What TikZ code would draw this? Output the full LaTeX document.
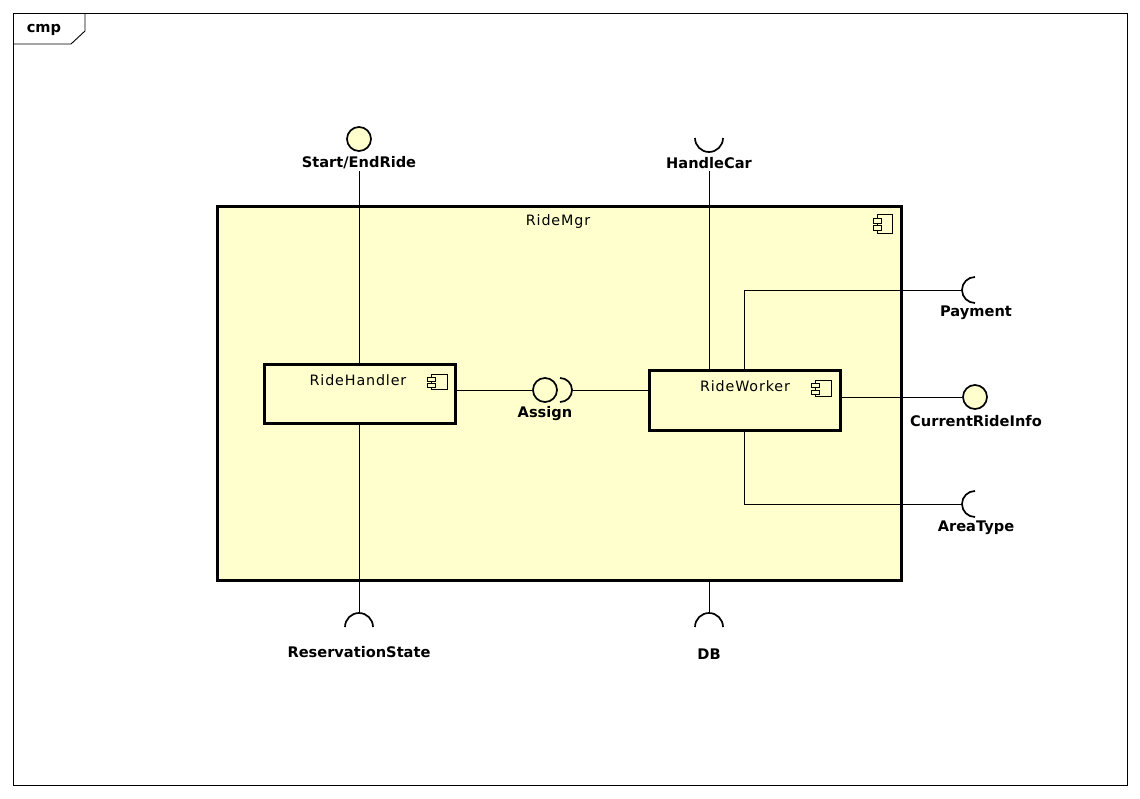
\documentclass[tikz,border=0pt]{standalone}
\usepackage{fontspec}
\setmainfont{DejaVu Sans}
\newfontfamily\namefont[LetterSpace=6]{DejaVu Sans}
\definecolor{umlfill}{RGB}{255,255,206}
\begin{document}
\begin{tikzpicture}[x=1pt,y=-1pt,
  frameline/.style={draw=black,line width=0.9pt},
  boxline/.style={draw=black,line width=3pt,fill=umlfill,outer sep=0pt,inner sep=0pt},
  wire/.style={draw=black,line width=0.9pt},
  iconline/.style={draw=black,line width=0.8pt},
  lolli/.style={circle,draw=black,line width=1.7pt,fill=umlfill,minimum size=24pt,inner sep=0pt},
  sock/.style={draw=black,line width=1.7pt},
  lbl/.style={font=\fontsize{14.6}{17}\selectfont\bfseries,inner sep=2pt},
  cname/.style={font=\fontsize{14.3}{16}\selectfont\namefont,inner sep=0pt},
  pics/cicon/.style 2 args={code={
    \draw[iconline,fill=umlfill] (-#1,-#2) rectangle (#1,#2);
    \draw[iconline,fill=umlfill] (-#1-4,-0.55*#2) rectangle (-#1+4,-0.05*#2);
    \draw[iconline,fill=umlfill] (-#1-4,0.25*#2) rectangle (-#1+4,0.75*#2);
  }}]
\useasboundingbox (0,0) rectangle (1140,798);
\fill[white] (0,0) rectangle (1140,798);

% diagram frame with its name tag
\draw[frameline] (13,13) rectangle (1127,785);
\draw[frameline] (13,44) -- (71,44) -- (85,31) -- (85,13);
\node[lbl] (tag) at (44,30) {cmp};

% enclosing component
\node[boxline,anchor=north west,minimum width=684pt,minimum height=374pt] (mgr) at (217,206) {};
\node[cname] (mgrname) at (558,222) {RideMgr};
\pic at (884.5,223.5) {cicon={7.5}{9.5}};

% inner components
\node[boxline,anchor=north west,minimum width=191pt,minimum height=59pt] (rh) at (264,364) {};
\node[cname] (rhname) at (358,380) {RideHandler};
\pic at (439,381.5) {cicon={8}{7.5}};

\node[boxline,anchor=north west,minimum width=191pt,minimum height=60pt] (rw) at (649,370) {};
\node[cname] (rwname) at (745,386) {RideWorker};
\pic at (823,388) {cicon={8}{8}};

% provided interfaces
\node[lolli] (ser) at (359,139) {};
\node[lbl] (serl) at (359,163) {Start/EndRide};
\node[lolli] (asg) at (545,390) {};
\node[lbl] (asgl) at (545,414) {Assign};
\node[lolli] (cri) at (975,397) {};
\node[lbl] (cril) at (976,421) {CurrentRideInfo};

% required interfaces (sockets)
\coordinate (hc) at (709,152);
\draw[sock] (hc) ++(-14,-14) arc[start angle=180,end angle=0,radius=14];
\node[lbl] (hcl) at (709,163) {HandleCar};

\coordinate (asock) at (572,390);
\draw[sock] (asock) ++(-12,-12) arc[start angle=-90,end angle=90,radius=12];

\coordinate (pay) at (962,290);
\draw[sock] (pay) ++(13,-13) arc[start angle=-90,end angle=-270,radius=13];
\node[lbl] (payl) at (976,313) {Payment};

\coordinate (at) at (962,504);
\draw[sock] (at) ++(13,-13) arc[start angle=-90,end angle=-270,radius=13];
\node[lbl] (atl) at (976,528) {AreaType};

\coordinate (rs) at (359,613);
\draw[sock] (rs) ++(-14,14) arc[start angle=180,end angle=360,radius=14];
\node[lbl] (rsl) at (359,652) {ReservationState};

\coordinate (db) at (709,613);
\draw[sock] (db) ++(-14,14) arc[start angle=180,end angle=360,radius=14];
\node[lbl] (dbl) at (709,654) {DB};

% connectors
\draw[wire] (serl.south) -- (serl.south |- rh.north);
\draw[wire] (hcl.south) -- (hcl.south |- rw.north);
\draw[wire] (asg.west -| rh.east) -- (asg.west);
\draw[wire] (asock) -- (asock -| rw.west);
\draw[wire] (rw.north) |- (pay);
\draw[wire] (cri.west -| rw.east) -- (cri.west);
\draw[wire] (rw.south) |- (at);
\draw[wire] (rs |- rh.south) -- (rs);
\draw[wire] (db |- mgr.south) -- (db);
\end{tikzpicture}
\end{document}
